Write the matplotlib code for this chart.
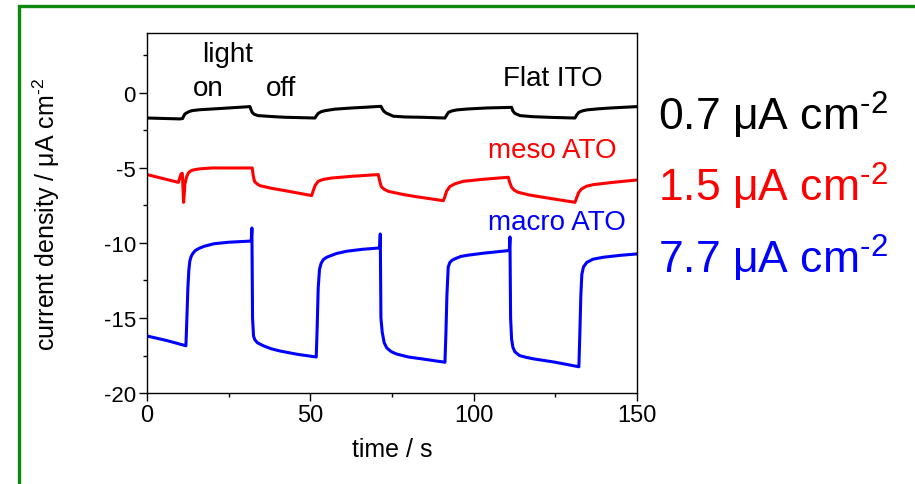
import numpy as np
import matplotlib
matplotlib.use('Agg')
import matplotlib.pyplot as plt
from matplotlib.patches import Rectangle
from matplotlib.ticker import MultipleLocator

plt.rcParams['font.family'] = ['Liberation Sans', 'DejaVu Sans']
plt.rcParams['mathtext.fontset'] = 'custom'
plt.rcParams['mathtext.rm'] = 'Liberation Sans'
plt.rcParams['mathtext.it'] = 'Liberation Sans:italic'
plt.rcParams['axes.unicode_minus'] = False

# Flat ITO (black)
t_flat = [0, 10.1, 10.9, 11.2, 11.6, 12.5, 13.7, 16.0, 19.8, 25.0, 31.5, 31.8, 32.2, 32.8, 34.0, 38.0, 42.2, 51.4,
          51.9, 52.4, 53.3, 54.5, 57.5, 62.7, 67.0, 71.6, 72.0, 72.5, 73.3, 75.4, 79.0, 84.0, 91.2,
          91.8, 92.3, 93.3, 94.8, 98.0, 104.0, 111.6,
          112.0, 112.6, 114.2, 118.0, 124.0, 131.0, 131.6, 132.2, 133.2, 134.6, 138.0, 142.0, 150]
y_flat = [-1.67, -1.73, -1.7, -1.55, -1.4, -1.28, -1.18, -1.12, -1.07, -1.0, -0.91, -1.1, -1.3, -1.42, -1.51, -1.57, -1.62, -1.67,
          -1.5, -1.36, -1.25, -1.18, -1.08, -1.0, -0.95, -0.89, -1.05, -1.22, -1.35, -1.55, -1.6, -1.62, -1.67,
          -1.45, -1.29, -1.2, -1.13, -1.07, -1.0, -0.96,
          -1.2, -1.36, -1.51, -1.58, -1.63, -1.67, -1.45, -1.29, -1.2, -1.13, -1.06, -1.0, -0.91]

# meso ATO (red)
t_meso = [0, 9.6, 10.4, 10.8, 11.2, 11.6, 12.1, 12.6, 13.3, 14.2, 16.0, 19.8, 32.2,
          32.5, 32.9, 33.6, 34.6, 38.0, 42.2, 50.4,
          50.9, 51.5, 52.4, 53.8, 56.5, 63.0, 70.8, 71.2, 71.7, 72.6, 73.9, 78.0, 82.0, 90.7,
          91.2, 91.7, 92.7, 94.3, 96.8, 103.0, 110.6,
          111.0, 111.6, 112.4, 113.6, 117.0, 122.0, 131.0, 131.5, 132.1, 133.0, 134.5, 136.6, 143.0, 150]
y_meso = [-5.44, -5.96, -5.4, -5.36, -7.29, -6.07, -5.6, -5.35, -5.2, -5.13, -5.06, -5.0, -5.0,
          -5.5, -5.89, -6.05, -6.18, -6.35, -6.51, -6.84,
          -6.5, -6.15, -5.89, -5.77, -5.67, -5.55, -5.44, -5.85, -6.24, -6.42, -6.56, -6.75, -6.9, -7.18,
          -6.9, -6.55, -6.24, -6.05, -5.89, -5.75, -5.62,
          -5.95, -6.29, -6.48, -6.62, -6.8, -6.98, -7.29, -7.0, -6.65, -6.4, -6.22, -6.11, -5.95, -5.8]

# macro ATO (blue)
t_macro = [0, 6, 11.9, 12.2, 12.5, 12.8, 13.1, 13.5, 14.0, 14.8, 16.0, 17.5, 20.5, 25, 31.9, 32.1, 32.3, 32.6,
           33.0, 33.8, 35.6, 38.0, 40.7, 46, 51.8, 52.1, 52.4, 52.8, 53.3, 54.0, 55, 58, 61.1, 66, 71.2, 71.4, 71.6,
           72, 72.6, 73.4, 74.8, 76.4, 80, 84, 91.2, 91.5, 91.8, 92.2, 92.7, 93.4, 94.3, 96, 98, 103, 110.9, 111.1, 111.3,
           111.6, 112.0, 112.6, 114.0, 116.0, 118.2, 125, 132.2, 132.5, 132.8, 133.1, 133.6, 134.6, 136.5, 139.7, 145, 150]
y_macro = [-16.2, -16.5, -16.85, -15.0, -13.0, -11.8, -11.2, -10.9, -10.7, -10.5, -10.35, -10.22, -10.05, -9.95, -9.87, -9.0, -15.0, -16.2,
           -16.45, -16.65, -16.85, -17.05, -17.2, -17.42, -17.6, -15.5, -13.0, -11.75, -11.35, -11.1, -10.95, -10.7, -10.55, -10.42, -10.33, -9.4, -15.0,
           -15.95, -16.65, -17.0, -17.25, -17.4, -17.6, -17.72, -17.95, -16.0, -13.5, -11.6, -11.3, -11.15, -11.05, -10.9, -10.82, -10.68, -10.5, -9.6, -15.0,
           -16.4, -16.95, -17.25, -17.5, -17.62, -17.72, -17.95, -18.25, -16.0, -13.5, -12.1, -11.6, -11.3, -11.08, -10.95, -10.82, -10.73]

photocurrents = ['0.7', '1.5', '7.7']
colors = ['black', 'red', 'blue']

fig = plt.figure(figsize=(9.15, 4.85), dpi=100)
ax = fig.add_axes([0.1607, 0.1876, 0.5355, 0.7424])

ax.plot(t_flat, y_flat, color='black', lw=2.2)
ax.plot(t_meso, y_meso, color='red', lw=2.2)
ax.plot(t_macro, y_macro, color='blue', lw=2.2)

ax.set_xlim(0, 150)
ax.set_ylim(-20, 4)
ax.xaxis.set_major_locator(MultipleLocator(50))
ax.xaxis.set_minor_locator(MultipleLocator(25))
ax.yaxis.set_major_locator(MultipleLocator(5))
ax.yaxis.set_minor_locator(MultipleLocator(2.5))
ax.tick_params(which='both', direction='out', top=False, right=False, width=1)
ax.tick_params(which='major', length=6)
ax.tick_params(which='minor', length=3)
ax.tick_params(axis='x', labelsize=17, pad=2)
ax.tick_params(axis='y', labelsize=16, pad=2)
for s in ax.spines.values():
    s.set_linewidth(1)

ax.set_xlabel('time / s', fontsize=18, labelpad=8)
ax.set_ylabel('current density / μA cm$^{\\text{-2}}$', fontsize=18, labelpad=30)

# labels inside the plot
ax.text(24.5, 2.6, 'light', fontsize=20, ha='center', va='center')
ax.text(18.8, 0.3, 'on', fontsize=20, ha='center', va='center')
ax.text(41, 0.3, 'off', fontsize=20, ha='center', va='center')
ax.text(139.5, 1.0, 'Flat ITO', fontsize=20, ha='right', va='center', color='black')
ax.text(143.8, -3.8, 'meso ATO', fontsize=20, ha='right', va='center', color='red')
ax.text(146.5, -8.6, 'macro ATO', fontsize=20, ha='right', va='center', color='blue')

# photocurrent values on the right
for val, c, yp in zip(photocurrents, colors, [115, 186, 258]):
    fig.text(658 / 915, 1 - yp / 485, f'{val} μA cm$^{{\\text{{-2}}}}$', fontsize=32,
             color=c, ha='left', va='center')

# green frame
fig.add_artist(Rectangle((19 / 915, -0.2), 1.2, 1.2 - 7 / 485, transform=fig.transFigure,
                         fill=False, edgecolor='#0d870d', lw=2.4))

fig.savefig('out.png', dpi=100)
